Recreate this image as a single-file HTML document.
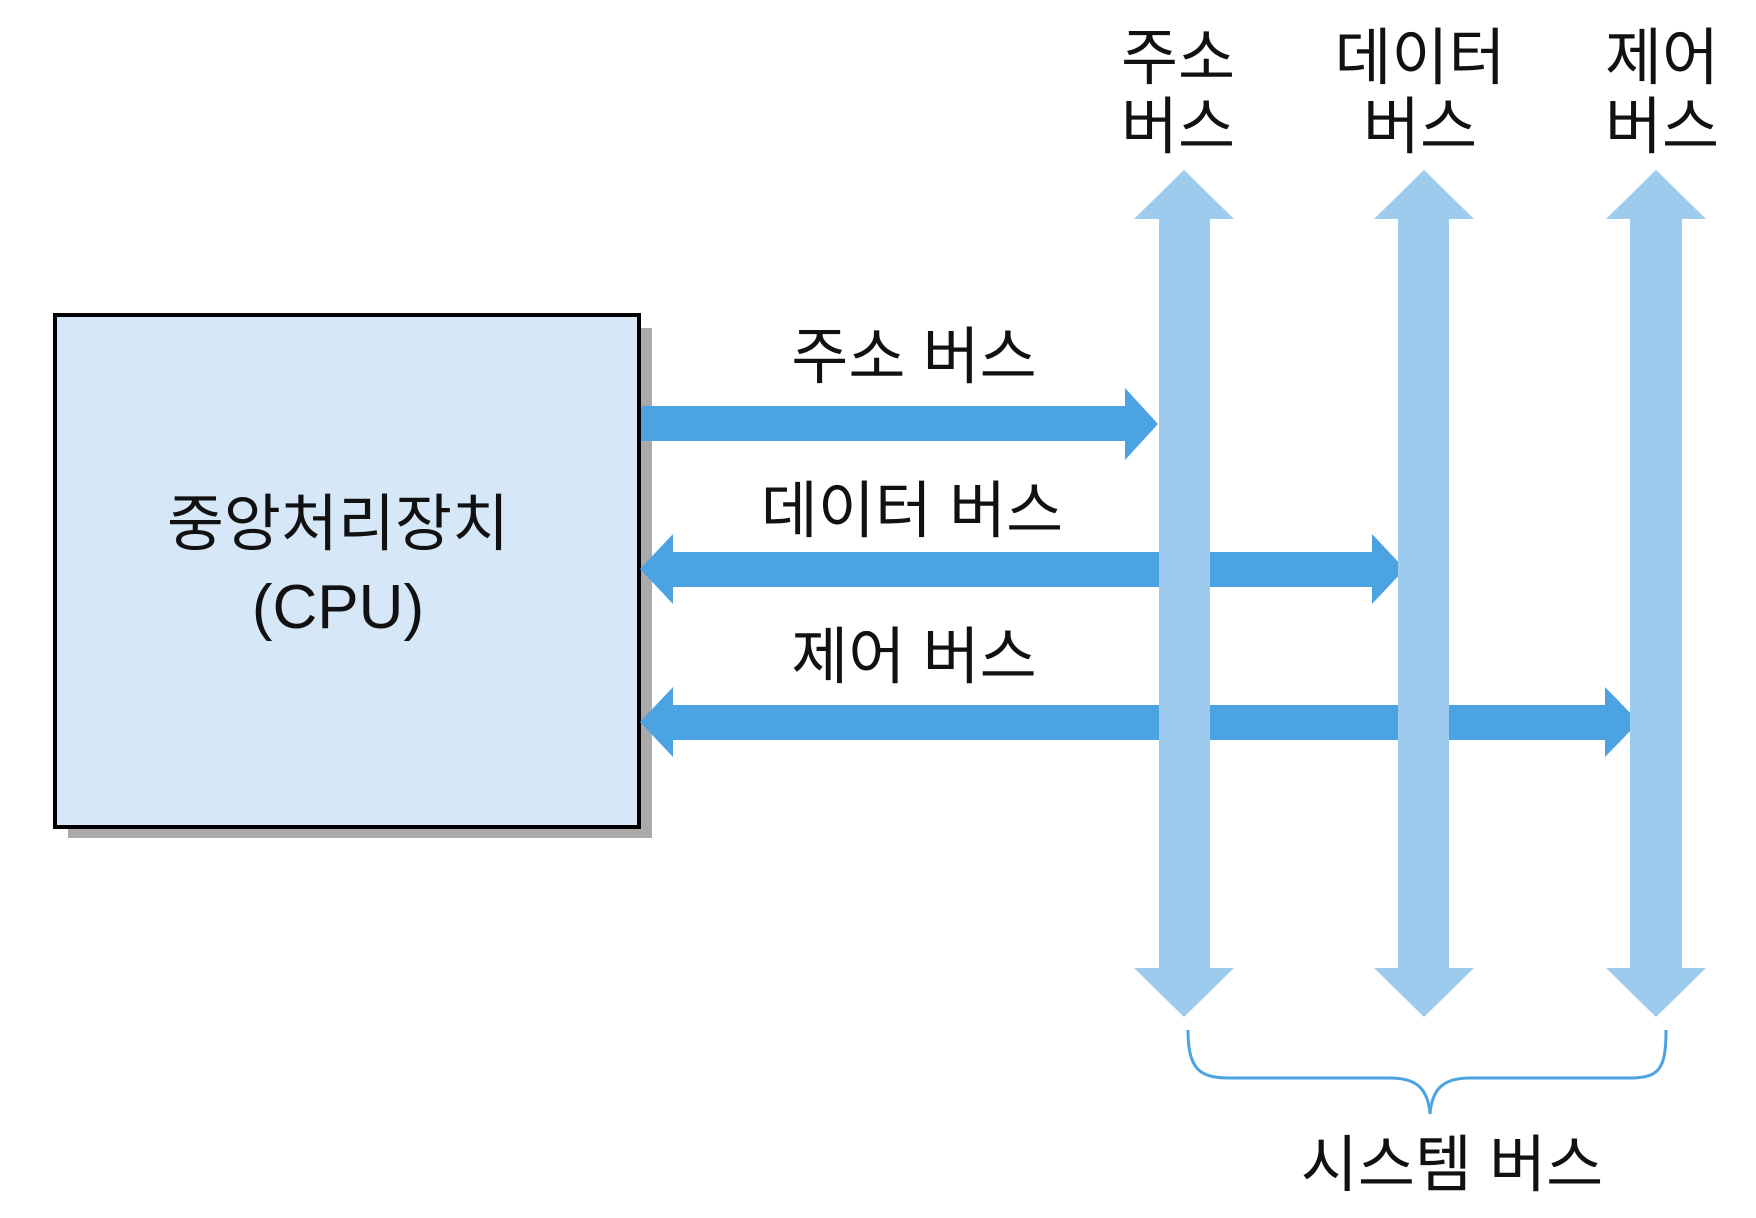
<!DOCTYPE html>
<html><head><meta charset="utf-8"><style>
html,body{margin:0;padding:0;background:#fff;}
svg{display:block;}
text{font-family:"Liberation Sans","Noto Sans CJK KR",sans-serif;fill:#111;}
</style></head><body>
<svg width="1756" height="1218" viewBox="0 0 1756 1218" xmlns="http://www.w3.org/2000/svg">
<!-- CPU box -->
<rect x="68" y="328" width="584" height="510" fill="#aaaaaa"/>
<rect x="55" y="315" width="584" height="512" fill="#d6e7f7" stroke="#000" stroke-width="4"/>
<text x="338" y="545" font-size="62" text-anchor="middle">중앙처리장치</text>
<text x="338" y="628" font-size="62" text-anchor="middle">(CPU)</text>

<!-- horizontal arrows -->
<polygon points="641,406 1125,406 1125,388 1158,424 1125,460 1125,441 641,441" fill="#4ba3e2"/>
<polygon points="640,569 673,534 673,552 1372,552 1372,534 1405,569 1372,604 1372,587 673,587 673,604" fill="#4ba3e2"/>
<polygon points="640,722 673,687 673,705 1605,705 1605,687 1639,722 1605,757 1605,740 673,740 673,757" fill="#4ba3e2"/>

<!-- vertical bars -->
<polygon points="1184,170 1234,219 1210,219 1210,968 1234,968 1184,1017 1134,968 1159,968 1159,219 1134,219" fill="#9ccbee"/>
<polygon points="1424,170 1474,219 1449,219 1449,968 1474,968 1424,1017 1374,968 1398,968 1398,219 1374,219" fill="#9ccbee"/>
<polygon points="1656,170 1706,219 1682,219 1682,968 1706,968 1656,1017 1606,968 1630,968 1630,219 1606,219" fill="#9ccbee"/>

<!-- labels -->
<text x="914" y="378" font-size="62" text-anchor="middle">주소 버스</text>
<text x="912" y="532" font-size="62" text-anchor="middle">데이터 버스</text>
<text x="914" y="678" font-size="62" text-anchor="middle">제어 버스</text>

<text x="1178" y="79" font-size="62" text-anchor="middle">주소</text>
<text x="1178" y="148" font-size="62" text-anchor="middle">버스</text>
<text x="1420" y="79" font-size="62" text-anchor="middle">데이터</text>
<text x="1420" y="148" font-size="62" text-anchor="middle">버스</text>
<text x="1662" y="79" font-size="62" text-anchor="middle">제어</text>
<text x="1662" y="148" font-size="62" text-anchor="middle">버스</text>

<!-- brace -->
<path d="M1188,1030 C1188,1070 1200,1078 1230,1078 L1390,1078 C1418,1078 1428,1090 1430,1114 C1432,1090 1442,1078 1470,1078 L1630,1078 C1660,1078 1666,1068 1666,1030" fill="none" stroke="#4ba3e2" stroke-width="3"/>
<text x="1452" y="1186" font-size="62" text-anchor="middle">시스템 버스</text>
</svg>
</body></html>
